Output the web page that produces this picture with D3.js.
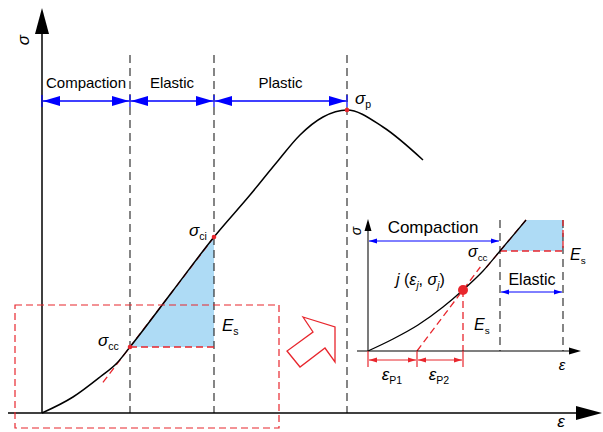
<!DOCTYPE html>
<html>
<head>
<meta charset="utf-8">
<script src="https://cdn.jsdelivr.net/npm/d3@7"></script>
<style>
  body { margin: 0; background: #fff; }
  text { font-family: "Liberation Sans", Arial, sans-serif; }
</style>
</head>
<body>
<div id="chart"></div>
<script>
// Main stress-strain curve (strain, stress)
const mainCurve = [[0, 0], [31, 16], [58, 36], [75, 50], [88, 66], [130, 121], [172, 176],
  [208, 218], [235, 251], [258, 278], [281, 296], [305, 303], [341, 286], [381, 253]];
// Stage boundaries on the strain axis
const stageBounds = [0, 88, 172, 305];
const stageNames = ["Compaction", "Elastic", "Plastic"];
const sigmaCC = [88, 66], sigmaCI = [172, 176], sigmaP = [305, 303];

// Inset (zoom of the compaction stage)
const insetCurve = [[0, 0], [25, 12], [50, 26], [75, 44], [95, 61], [115, 80], [132, 100], [158, 131]];
const insetBounds = [0, 132, 195];
const insetPoint = [95, 61];
const insetEP1 = 49;
const insetCC = [132, 100];

const width = 603, height = 432;
const svg = d3.select("#chart").append("svg").attr("width", width).attr("height", height);

const blue = "#0000ff", red = "#e8262d", fillBlue = "#aedbf5";

// Scales for main chart
const x = d3.scaleLinear().domain([0, 560]).range([42, 602]);
const y = d3.scaleLinear().domain([0, 400]).range([413, 13]);
// Scales for inset
const xi = d3.scaleLinear().domain([0, 212]).range([368, 580]);
const yi = d3.scaleLinear().domain([0, 131]).range([351, 220]);

function arrowHead(g, tipX, tipY, dir, len, half, color) {
  // dir: "right","left","up"
  let pts;
  if (dir === "right") pts = [[tipX, tipY], [tipX - len, tipY - half], [tipX - len, tipY + half]];
  else if (dir === "left") pts = [[tipX, tipY], [tipX + len, tipY - half], [tipX + len, tipY + half]];
  else pts = [[tipX, tipY], [tipX - half, tipY + len], [tipX + half, tipY + len]];
  g.append("path").attr("d", d3.line()(pts) + "Z").attr("fill", color);
}

function dimArrow(g, x1, x2, yy, color, len, half, w) {
  g.append("line").attr("x1", x1).attr("x2", x2).attr("y1", yy).attr("y2", yy)
    .attr("stroke", color).attr("stroke-width", w);
  arrowHead(g, x1, yy, "left", len, half, color);
  arrowHead(g, x2, yy, "right", len, half, color);
}

function subLabel(g, px, py, main, sub, size, anchor, italicMain) {
  const t = g.append("text").attr("x", px).attr("y", py).attr("font-size", size)
    .attr("text-anchor", anchor || "start");
  t.append("tspan").text(main).attr("font-style", italicMain === false ? "normal" : "italic");
  t.append("tspan").text(sub).attr("font-size", size * 0.62).attr("dy", size * 0.22);
  return t;
}

const dashBlack = "8,5", dashRed = "7,4";

// ---------- Main chart ----------
const main = svg.append("g");

// blue triangle (elastic modulus)
main.append("path")
  .attr("d", d3.line()([[x(sigmaCC[0]), y(sigmaCC[1])], [x(sigmaCI[0]), y(sigmaCI[1])], [x(sigmaCI[0]), y(sigmaCC[1])]]) + "Z")
  .attr("fill", fillBlue);

// stage boundary dashed lines
stageBounds.slice(1).forEach(b => {
  main.append("line").attr("x1", x(b)).attr("x2", x(b)).attr("y1", y(358)).attr("y2", y(0))
    .attr("stroke", "#222").attr("stroke-width", 1.1).attr("stroke-dasharray", dashBlack);
});

// red tangent line and bottom of triangle
const slope = (sigmaCI[1] - sigmaCC[1]) / (sigmaCI[0] - sigmaCC[0]);
main.append("line").attr("x1", x(sigmaCI[0])).attr("y1", y(sigmaCI[1]))
  .attr("x2", x(sigmaCC[0] - 29)).attr("y2", y(sigmaCC[1] - 29 * slope))
  .attr("stroke", red).attr("stroke-width", 1.3).attr("stroke-dasharray", dashRed);
main.append("line").attr("x1", x(sigmaCC[0])).attr("y1", y(sigmaCC[1]))
  .attr("x2", x(sigmaCI[0])).attr("y2", y(sigmaCC[1]))
  .attr("stroke", red).attr("stroke-width", 1.3).attr("stroke-dasharray", dashRed);

// curve
main.append("path").datum(mainCurve)
  .attr("d", d3.line().x(d => x(d[0])).y(d => y(d[1])).curve(d3.curveMonotoneX))
  .attr("fill", "none").attr("stroke", "#000").attr("stroke-width", 1.5);

// key points
[sigmaCC, sigmaCI, sigmaP].forEach(p => {
  main.append("circle").attr("cx", x(p[0])).attr("cy", y(p[1])).attr("r", 2.3).attr("fill", red);
});

// axes
main.append("line").attr("x1", x(0)).attr("x2", x(0)).attr("y1", y(0)).attr("y2", 30)
  .attr("stroke", "#000").attr("stroke-width", 1.5);
arrowHead(main, x(0), 8, "up", 26, 7, "#000");
main.append("line").attr("x1", 8).attr("x2", 580).attr("y1", y(0)).attr("y2", y(0))
  .attr("stroke", "#000").attr("stroke-width", 1.5);
arrowHead(main, 602, y(0), "right", 26, 7, "#000");

main.append("text").attr("transform", `translate(29,40) rotate(-90)`).attr("text-anchor", "middle")
  .attr("font-size", 17).attr("font-style", "italic").text("σ");
main.append("text").attr("x", 561).attr("y", 427).attr("text-anchor", "middle")
  .attr("font-size", 17).attr("font-style", "italic").text("ε");

// stage arrows and names
stageNames.forEach((n, i) => {
  const a = x(stageBounds[i]), b = x(stageBounds[i + 1]);
  dimArrow(main, a + 1, b - 1, y(312), blue, 17, 5, 1.3);
  main.append("text").attr("x", (a + b) / 2).attr("y", 88).attr("text-anchor", "middle")
    .attr("font-size", 15).text(n);
});
// small blue ticks at the arrow ends
stageBounds.forEach(b => {
  main.append("line").attr("x1", x(b)).attr("x2", x(b)).attr("y1", y(318)).attr("y2", y(306))
    .attr("stroke", blue).attr("stroke-width", 1.2);
});

subLabel(main, 98, 346, "σ", "cc", 17);
subLabel(main, 189, 236, "σ", "ci", 17);
subLabel(main, 222, 331, "E", "s", 17);
subLabel(main, 355, 104, "σ", "p", 17);

// red dashed zoom frame
main.append("rect").attr("x", 15).attr("y", 305).attr("width", 264).attr("height", 123)
  .attr("fill", "none").attr("stroke", red).attr("stroke-width", 1.2).attr("stroke-dasharray", dashRed);

// hollow arrow pointing at the inset
const hollowArrow = [[303, 317], [335, 327], [335, 362], [325, 348], [300, 367], [287, 351], [313, 332]];
main.append("path").attr("d", d3.line()(hollowArrow) + "Z")
  .attr("fill", "#fff").attr("stroke", red).attr("stroke-width", 1.3);

// ---------- Inset ----------
const ins = svg.append("g");

ins.append("path")
  .attr("d", d3.line()([[xi(insetCC[0]), yi(insetCC[1])], [xi(158), yi(131)], [xi(insetBounds[2]), yi(131)], [xi(insetBounds[2]), yi(insetCC[1])]]) + "Z")
  .attr("fill", fillBlue);

insetBounds.slice(1).forEach(b => {
  ins.append("line").attr("x1", xi(b)).attr("x2", xi(b)).attr("y1", yi(131)).attr("y2", yi(0))
    .attr("stroke", "#222").attr("stroke-width", 1.1).attr("stroke-dasharray", dashBlack);
});

// red dashed lines in inset
const tanSlope = insetPoint[1] / (insetPoint[0] - insetEP1);
ins.append("line").attr("x1", xi(insetEP1)).attr("y1", yi(0))
  .attr("x2", xi(insetEP1 + 84 / tanSlope)).attr("y2", yi(84))
  .attr("stroke", red).attr("stroke-width", 1.3).attr("stroke-dasharray", dashRed);
ins.append("line").attr("x1", xi(insetPoint[0])).attr("y1", yi(insetPoint[1]))
  .attr("x2", xi(insetPoint[0])).attr("y2", yi(0))
  .attr("stroke", red).attr("stroke-width", 1.3).attr("stroke-dasharray", dashRed);
const elSlope = (131 - insetCC[1]) / (158 - insetCC[0]);
ins.append("line").attr("x1", xi(158)).attr("y1", yi(131))
  .attr("x2", xi(insetCC[0] - 14)).attr("y2", yi(insetCC[1] - 14 * elSlope))
  .attr("stroke", red).attr("stroke-width", 1.3).attr("stroke-dasharray", dashRed);
ins.append("polyline")
  .attr("points", [[xi(insetCC[0]), yi(insetCC[1])], [xi(insetBounds[2]), yi(insetCC[1])], [xi(insetBounds[2]), yi(131)]].join(" "))
  .attr("fill", "none").attr("stroke", red).attr("stroke-width", 1.3).attr("stroke-dasharray", dashRed);

ins.append("path").datum(insetCurve)
  .attr("d", d3.line().x(d => xi(d[0])).y(d => yi(d[1])).curve(d3.curveMonotoneX))
  .attr("fill", "none").attr("stroke", "#000").attr("stroke-width", 1.3);

ins.append("circle").attr("cx", xi(insetPoint[0])).attr("cy", yi(insetPoint[1])).attr("r", 5).attr("fill", red);

// inset axes
ins.append("line").attr("x1", xi(0)).attr("x2", xi(0)).attr("y1", yi(0)).attr("y2", 228)
  .attr("stroke", "#333").attr("stroke-width", 1.3);
arrowHead(ins, xi(0), 219, "up", 12, 3.5, "#000");
ins.append("line").attr("x1", 357).attr("x2", 574).attr("y1", yi(0)).attr("y2", yi(0))
  .attr("stroke", "#000").attr("stroke-width", 1.2);
arrowHead(ins, 581, yi(0), "right", 12, 3.5, "#000");

ins.append("text").attr("transform", `translate(361,231) rotate(-90)`).attr("text-anchor", "middle")
  .attr("font-size", 14).attr("font-style", "italic").text("σ");
ins.append("text").attr("x", 562).attr("y", 370).attr("text-anchor", "middle")
  .attr("font-size", 15).attr("font-style", "italic").text("ε");

// inset blue arrows
dimArrow(ins, xi(0) + 1, xi(insetBounds[1]) - 1, yi(110), blue, 8, 2.5, 1);
ins.append("text").attr("x", 433).attr("y", 233).attr("text-anchor", "middle").attr("font-size", 17).text("Compaction");
dimArrow(ins, xi(insetBounds[1]) + 1, xi(insetBounds[2]) - 1, yi(59), blue, 8, 2.5, 1);
ins.append("text").attr("x", 532).attr("y", 285).attr("text-anchor", "middle").attr("font-size", 16).text("Elastic");

// red strain dimension arrows
const dimY = yi(-9);
[0, insetEP1, insetPoint[0]].forEach(v => {
  ins.append("line").attr("x1", xi(v)).attr("x2", xi(v)).attr("y1", yi(0)).attr("y2", yi(-16))
    .attr("stroke", red).attr("stroke-width", 1.2);
});
dimArrow(ins, xi(0) + 1, xi(insetEP1) - 1, dimY, red, 8, 2.5, 1);
dimArrow(ins, xi(insetEP1) + 1, xi(insetPoint[0]) - 1, dimY, red, 8, 2.5, 1);
subLabel(ins, 392, 380, "ε", "P1", 17, "middle");
subLabel(ins, 439, 380, "ε", "P2", 17, "middle");

subLabel(ins, 468, 257, "σ", "cc", 16);
subLabel(ins, 570, 260, "E", "s", 16);
subLabel(ins, 474, 330, "E", "s", 16);

const jl = ins.append("text").attr("x", 396).attr("y", 285).attr("font-size", 16);
jl.append("tspan").attr("font-style", "italic").text("j");
jl.append("tspan").text(" (");
jl.append("tspan").attr("font-style", "italic").text("ε");
jl.append("tspan").attr("font-style", "italic").attr("font-size", 10).attr("dy", 4).text("j");
jl.append("tspan").attr("dy", -4).text(", ");
jl.append("tspan").attr("font-style", "italic").text("σ");
jl.append("tspan").attr("font-style", "italic").attr("font-size", 10).attr("dy", 4).text("j");
jl.append("tspan").attr("dy", -4).text(")");
</script>
</body>
</html>
